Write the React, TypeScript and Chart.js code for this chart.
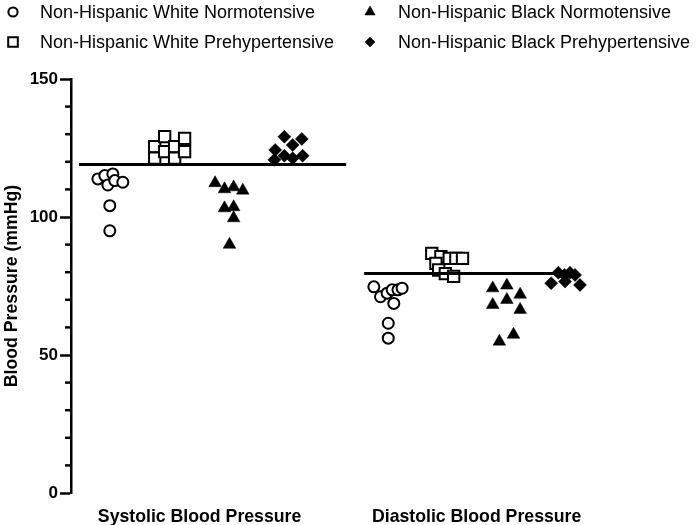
import React, { useEffect, useRef } from "react";
import { Chart, registerables } from "chart.js";
import { drawPoint } from "chart.js/helpers";

Chart.register(...registerables);

// ---------- data ----------
const categories = ["Systolic Blood Pressure", "Diastolic Blood Pressure"];
const seriesNames = [
  "Non-Hispanic White Normotensive",
  "Non-Hispanic Black Normotensive",
  "Non-Hispanic White Prehypertensive",
  "Non-Hispanic Black Prehypertensive",
];
const yMajorTicks = [0, 50, 100, 150];
const yMinorTicks = [10, 20, 30, 40, 60, 70, 80, 90, 110, 120, 130, 140];

// x = category index (1 = systolic, 2 = diastolic) with horizontal jitter
const whiteNormoX = [0.633, 0.658, 0.669, 0.687, 0.694, 0.723, 0.676, 0.676,
  1.629, 1.653, 1.677, 1.695, 1.716, 1.731, 1.701, 1.681, 1.681];
const whiteNormoY = [113.8, 115.0, 111.6, 115.6, 113.2, 112.6, 104.1, 95.0,
  74.7, 71.1, 72.4, 73.6, 73.6, 74.2, 68.7, 61.5, 56.1];

const whitePreX = [0.838, 0.838, 0.874, 0.874, 0.910, 0.910, 0.946, 0.946,
  1.838, 1.871, 1.901, 1.925, 1.949, 1.853, 1.863, 1.887, 1.917];
const whitePreY = [125.5, 121.3, 129.1, 123.7, 125.5, 121.3, 128.5, 123.7,
  86.8, 85.6, 85.0, 85.0, 85.0, 83.2, 80.8, 79.5, 78.5];

const blackNormoX = [1.056, 1.090, 1.123, 1.156, 1.090, 1.123, 1.123, 1.108,
  2.058, 2.109, 2.157, 2.058, 2.109, 2.157, 2.082, 2.133];
const blackNormoY = [112.3, 110.1, 110.8, 109.6, 103.2, 103.6, 99.6, 90.0,
  74.2, 75.2, 71.9, 68.2, 70.0, 66.4, 54.9, 57.4];

const blackPreX = [1.306, 1.369, 1.273, 1.336, 1.306, 1.372, 1.270, 1.336,
  2.295, 2.317, 2.337, 2.355, 2.269, 2.319, 2.373];
const blackPreY = [129.1, 128.3, 124.3, 126.1, 122.2, 122.2, 120.7, 121.3,
  79.8, 79.0, 79.8, 79.0, 76.0, 76.6, 75.4];

// reference lines
const systolicRefX = [0.565, 1.529];
const systolicRefY = 119;
const diastolicRefX = [1.594, 2.36];
const diastolicRefY = 79.5;

const FONT = '"Liberation Sans", Arial, Helvetica, sans-serif';

const zip = (xs: number[], ys: number[]) => xs.map((x, i) => ({ x, y: ys[i] }));

const legendLayout = [
  { col: 0, row: 0, r: 4.6 },
  { col: 1, row: 0, r: 6 },
  { col: 0, row: 1, r: 6.8 },
  { col: 1, row: 1, r: 5 },
];

const gridLegend = {
  id: "gridLegend",
  afterDraw(chart: any) {
    const ctx = chart.ctx;
    const colMarker = [13, 370];
    const colText = [40, 398];
    const rowY = [12, 42];
    for (let i = 0; i < 4; i++) {
      const ds = chart.data.datasets[i];
      const L = legendLayout[i];
      const mx = colMarker[L.col];
      const my = rowY[L.row];
      ctx.save();
      ctx.fillStyle = ds.backgroundColor;
      ctx.strokeStyle = ds.borderColor;
      ctx.lineWidth = ds.borderWidth;
      drawPoint(ctx, { pointStyle: ds.pointStyle, rotation: 0, radius: L.r, borderWidth: ds.borderWidth } as any, mx, my);
      ctx.fillStyle = "#000";
      ctx.font = `18px ${FONT}`;
      ctx.textBaseline = "middle";
      ctx.textAlign = "left";
      ctx.fillText(ds.label, colText[L.col], my + 1);
      ctx.restore();
    }
  },
};

const minorTicks = {
  id: "minorTicks",
  afterDraw(chart: any) {
    const ctx = chart.ctx;
    const y = chart.scales.y;
    const left = chart.chartArea.left;
    ctx.save();
    ctx.strokeStyle = "#000";
    ctx.lineWidth = 2.5;
    for (const v of yMinorTicks) {
      const py = y.getPixelForValue(v);
      ctx.beginPath();
      ctx.moveTo(left - 6, py);
      ctx.lineTo(left, py);
      ctx.stroke();
    }
    ctx.restore();
  },
};

export default function App() {
  const ref = useRef<HTMLCanvasElement | null>(null);

  useEffect(() => {
    if (!ref.current) return;
    const chart = new Chart(ref.current, {
      type: "scatter",
      data: {
        datasets: [
          {
            label: seriesNames[0],
            data: zip(whiteNormoX, whiteNormoY),
            pointStyle: "circle",
            pointRadius: 5.5,
            borderWidth: 2,
            borderColor: "#000",
            backgroundColor: "#fff",
            order: 2,
          },
          {
            label: seriesNames[1],
            data: zip(blackNormoX, blackNormoY),
            pointStyle: "triangle",
            pointRadius: 7.3,
            borderWidth: 0.5,
            borderColor: "#000",
            backgroundColor: "#000",
            order: 2,
          },
          {
            label: seriesNames[2],
            data: zip(whitePreX, whitePreY),
            pointStyle: "rect",
            pointRadius: 8,
            borderWidth: 2,
            borderColor: "#000",
            backgroundColor: "#fff",
            order: 2,
          },
          {
            label: seriesNames[3],
            data: zip(blackPreX, blackPreY),
            pointStyle: "rectRot",
            pointRadius: 6.5,
            borderWidth: 0.5,
            borderColor: "#000",
            backgroundColor: "#000",
            order: 2,
          },
          {
            type: "line",
            label: "systolic ref",
            data: systolicRefX.map((x) => ({ x, y: systolicRefY })),
            borderColor: "#000",
            borderWidth: 3,
            pointRadius: 0,
            order: 0,
          } as any,
          {
            type: "line",
            label: "diastolic ref",
            data: diastolicRefX.map((x) => ({ x, y: diastolicRefY })),
            borderColor: "#000",
            borderWidth: 3,
            pointRadius: 0,
            order: 0,
          } as any,
        ],
      },
      options: {
        responsive: false,
        animation: false,
        devicePixelRatio: 1,
        layout: { padding: { top: 79, left: 0, right: 0, bottom: 0 } },
        plugins: {
          legend: { display: false },
          tooltip: { enabled: false },
        },
        scales: {
          x: {
            type: "linear",
            min: 0.536,
            max: 2.77,
            grid: { display: false },
            border: { display: false },
            afterBuildTicks: (scale: any) => {
              scale.ticks = categories.map((_, i) => ({ value: i + 1 }));
            },
            afterFit: (scale: any) => {
              scale.height = 32;
            },
            ticks: {
              autoSkip: false,
              maxRotation: 0,
              padding: 5,
              color: "#000",
              font: { family: FONT, size: 17.7, weight: "bold" },
              callback: (v: any) => categories[Math.round(v) - 1] ?? "",
            },
          },
          y: {
            type: "linear",
            min: 0,
            max: 150,
            afterBuildTicks: (scale: any) => {
              scale.ticks = yMajorTicks.map((v) => ({ value: v }));
            },
            afterFit: (scale: any) => {
              scale.width = 71;
            },
            border: { display: true, color: "#000", width: 2.5 },
            grid: {
              drawOnChartArea: false,
              drawTicks: true,
              tickLength: 11,
              tickWidth: 2.5,
              tickColor: "#000",
            },
            ticks: {
              padding: 2,
              color: "#000",
              font: { family: FONT, size: 17, weight: "bold" },
            },
            title: {
              display: true,
              text: "Blood Pressure (mmHg)",
              color: "#000",
              padding: { top: 1, bottom: 0 },
              font: { family: FONT, size: 17.7, weight: "bold" },
            },
          },
        },
      } as any,
      plugins: [gridLegend, minorTicks],
    });
    return () => chart.destroy();
  }, []);

  return (
    <div style={{ position: "fixed", left: 0, top: 0, width: 700, height: 525, background: "#fff" }}>
      <canvas ref={ref} width={700} height={525} style={{ display: "block", width: 700, height: 525 }} />
    </div>
  );
}
